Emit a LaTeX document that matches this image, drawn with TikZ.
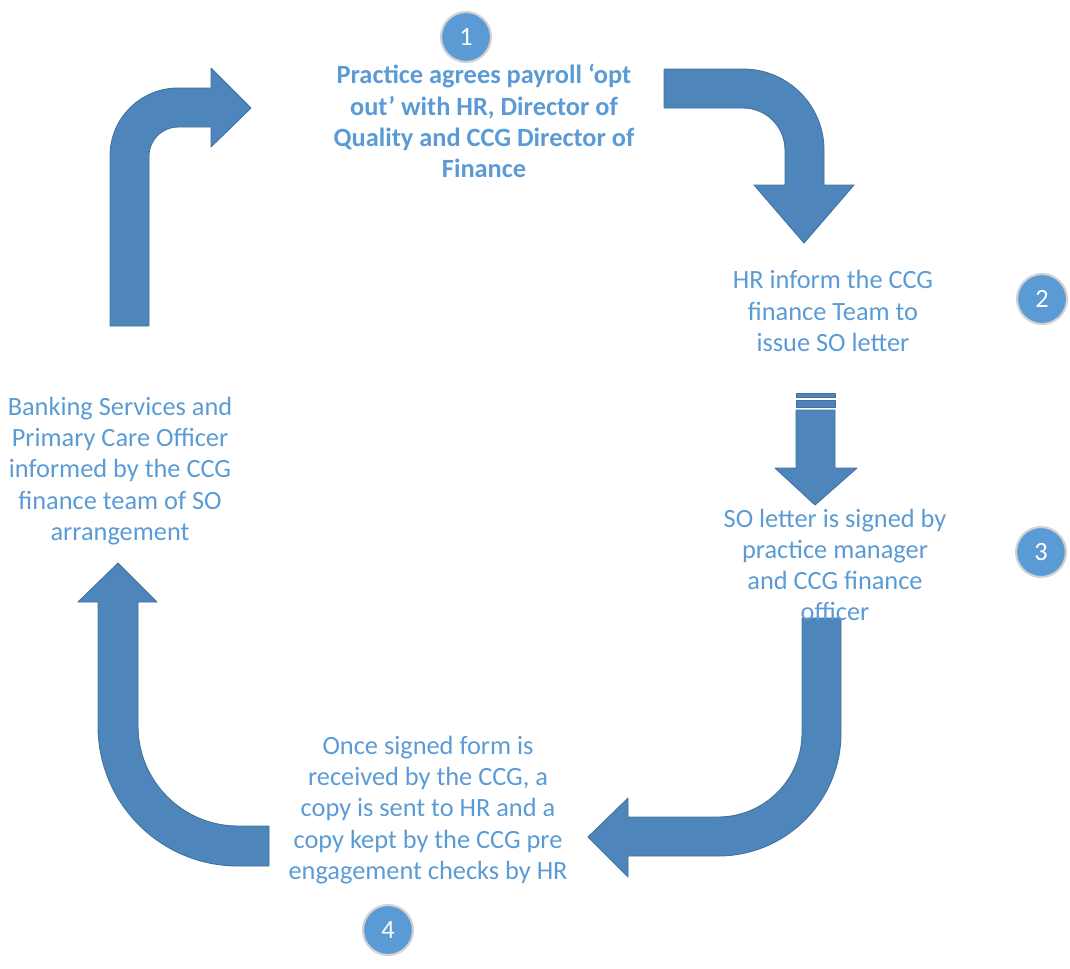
\documentclass[tikz,border=0pt]{standalone}
\usepackage{fontspec}
\setmainfont{Carlito}
\usepackage{xcolor}
\definecolor{arrowblue}{HTML}{4E86BC}
\definecolor{arrowedge}{HTML}{41719C}
\definecolor{txtblue}{HTML}{5B9BD5}
\definecolor{circblue}{HTML}{5B9BD5}
\newcommand{\stepcirc}[3]{\node[numcirc] (#1) at (#2) {#3};}

\begin{document}
\begin{tikzpicture}[x=0.02cm,y=-0.02cm,
    blockarrow/.style={fill=arrowblue,draw=arrowedge,line width=0.5pt,line join=round},
    steptext/.style={text=txtblue,align=center,inner sep=0pt,font=\fontsize{15}{17.8}\selectfont},
    numcirc/.style={circle,fill=circblue,draw=gray!35,line width=1.2pt,minimum size=1cm,inner sep=0pt,text=white,font=\fontsize{15}{18}\selectfont}]
    \useasboundingbox (0,0) rectangle (1070,968);

    % arrow up and right (top left)
    \draw[blockarrow] (110,326) -- (110,156) arc[start angle=180,end angle=270,radius=68]
      -- (211,88) -- (211,68) -- (251,108) -- (211,147) -- (211,127) -- (178,127)
      arc[start angle=270,end angle=180,radius=29] -- (149,326) -- cycle;

    % arrow right and down (top right)
    \draw[blockarrow] (664,69) -- (743,69) arc[start angle=270,end angle=360,radius=81]
      -- (824,185) -- (854,185) -- (804,243) -- (754,185) -- (785,185) -- (785,150)
      arc[start angle=0,end angle=-90,radius=42] -- (664,108) -- cycle;

    % striped arrow down (middle right)
    \draw[blockarrow] (796,393) rectangle (835,397);
    \draw[blockarrow] (796,400) rectangle (835,407);
    \draw[blockarrow] (796,410) -- (835,410) -- (835,468) -- (857,468) -- (815,505)
      -- (775,468) -- (796,468) -- cycle;

    % arrow down and left (bottom right)
    \draw[blockarrow] (802,618) -- (841,618) -- (841,733) arc[start angle=0,end angle=90,radius=123]
      -- (628,856) -- (628,877) -- (588,837) -- (628,798) -- (628,817) -- (718,817)
      arc[start angle=90,end angle=0,radius=84] -- cycle;

    % arrow left and up (bottom left)
    \draw[blockarrow] (98,602) -- (78,602) -- (118,563) -- (157,602) -- (138,602) -- (138,726)
      arc[start angle=180,end angle=90,radius=100] -- (269,826) -- (269,866) -- (238,866)
      arc[start angle=90,end angle=180,radius=140] -- cycle;

    % step texts
    \node[steptext,font=\fontsize{15}{17.8}\selectfont\bfseries] (agree) at (484,121)
      {Practice agrees payroll ‘opt\\out’ with HR, Director of\\Quality and CCG Director of\\Finance};
    \node[steptext] (inform) at (833,311) {HR inform the CCG\\finance Team to\\issue SO letter};
    \node[steptext] (signed) at (835,565) {SO letter is signed by\\practice manager\\and CCG finance\\officer};
    \node[steptext] (copy) at (428,810) {Once signed form is\\received by the CCG, a\\copy is sent to HR and a\\copy kept by the CCG pre\\engagement checks by HR};
    \node[steptext] (bank) at (120,471) {Banking Services and\\Primary Care Officer\\informed by the CCG\\finance team of SO\\arrangement};

    % step numbers
    \stepcirc{n1}{466,37}{1}
    \stepcirc{n2}{1042,299}{2}
    \stepcirc{n3}{1041,552}{3}
    \stepcirc{n4}{388,930}{4}
\end{tikzpicture}
\end{document}
